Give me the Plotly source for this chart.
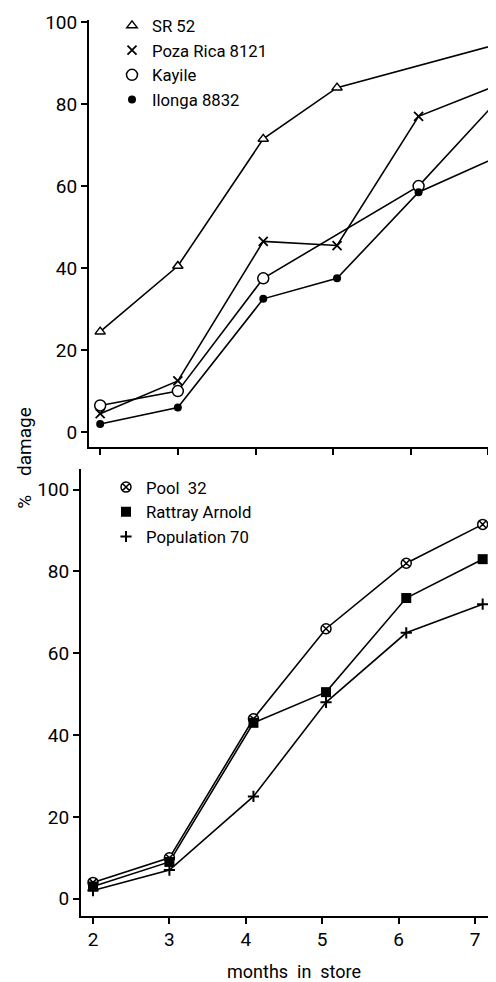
import plotly.graph_objects as go

# ── data ────────────────────────────────────────────────────────────────────
months = [2, 3, 4.1, 5.05, 6.1, 7.1]
tick_months = [2, 3, 4, 5, 6, 7]
tick_damage = [0, 20, 40, 60, 80, 100]

sr52_x = [2, 3, 4.1, 5.05, 7.1]
sr52_y = [24.5, 40.5, 71.5, 84, 94.5]

poza_x = months
poza_y = [4.5, 12.5, 46.5, 45.5, 77, 84.5]

kayile_x = [2, 3, 4.1, 6.1, 7.1]
kayile_y = [6.5, 10, 37.5, 60, 80.5]

ilonga_x = months
ilonga_y = [2, 6, 32.5, 37.5, 58.5, 67]

pool_y = [4, 10, 44, 66, 82, 91.5]
rattray_y = [3, 9, 43, 50.5, 73.5, 83]
pop70_y = [2, 7, 25, 48, 65, 72]

_FONT = "Roboto, Liberation Sans, sans-serif"
_INK = "black"
W, H = 496, 982
OFF = 8   # page body margin offsets the figure by this many pixels


def px_x(p):
    return (p - OFF) / W


def px_y(p):
    return 1 - (p - OFF) / H


series_top = [
    ("SR 52", sr52_x, sr52_y, dict(symbol="triangle-up", size=9, color="white",
                                   line=dict(color=_INK, width=1.5))),
    ("Poza Rica 8121", poza_x, poza_y, dict(symbol="x-thin", size=9, color=_INK,
                                             line=dict(color=_INK, width=1.8))),
    ("Kayile", kayile_x, kayile_y, dict(symbol="circle", size=11, color="white",
                                        line=dict(color=_INK, width=1.5))),
    ("Ilonga 8832", ilonga_x, ilonga_y, dict(symbol="circle", size=8, color=_INK,
                                             line=dict(color=_INK, width=0))),
]
series_bot = [
    ("Pool  32", months, pool_y, dict(symbol="circle-x", size=10, color="white",
                                      line=dict(color=_INK, width=1.5))),
    ("Rattray Arnold", months, rattray_y, dict(symbol="square", size=10, color=_INK,
                                               line=dict(color=_INK, width=0))),
    ("Population 70", months, pop70_y, dict(symbol="cross-thin", size=8, color=_INK,
                                             line=dict(color=_INK, width=2))),
]

fig = go.Figure()

for series, xa, ya, leg in [
    (series_top, "x", "y", "legend"),
    (series_bot, "x2", "y2", "legend2"),
]:
    for name, xs, ys, mk in series:
        fig.add_trace(go.Scatter(
            x=xs, y=ys, mode="lines", xaxis=xa, yaxis=ya,
            line=dict(color=_INK, width=1.6), showlegend=False, hoverinfo="skip",
        ))
    for name, xs, ys, mk in series:
        fig.add_trace(go.Scatter(
            x=xs, y=ys, mode="markers", name=name, xaxis=xa, yaxis=ya,
            marker=mk, legend=leg, cliponaxis=False,
        ))

axis_common = dict(
    showline=True, linecolor=_INK, linewidth=2, mirror=False,
    showgrid=False, zeroline=False, automargin=False,
    ticks="outside", tickcolor=_INK, tickwidth=1.5, ticklen=6,
    ticklabeloverflow="allow",
    tickfont=dict(family=_FONT, size=19, color=_INK),
)

fig.update_layout(
    width=W, height=H,
    paper_bgcolor="white", plot_bgcolor="white",
    margin=dict(l=0, r=0, t=0, b=0, pad=0),
    font=dict(family=_FONT, size=18, color=_INK),
    xaxis=dict(axis_common, domain=[px_x(89), 1.0], range=[1.856, 7.2],
               tickvals=tick_months, showticklabels=False, anchor="y"),
    yaxis=dict(axis_common, domain=[px_y(443), px_y(13)], range=[-3.6, 100.5],
               tickvals=tick_damage, anchor="x"),
    xaxis2=dict(axis_common, domain=[px_x(81), px_x(490)], range=[1.843, 7.196],
                tickvals=tick_months, anchor="y2"),
    yaxis2=dict(axis_common, domain=[px_y(915), px_y(465)], range=[-4.1, 105.1],
                tickvals=tick_damage, anchor="x2"),
    legend=dict(x=px_x(112), xanchor="left", y=px_y(1), yanchor="top",
                bgcolor="rgba(0,0,0,0)", font=dict(size=16.7), tracegroupgap=0),
    legend2=dict(x=px_x(106), xanchor="left", y=px_y(466), yanchor="top",
                 bgcolor="rgba(0,0,0,0)", font=dict(size=16.7), tracegroupgap=0),
    showlegend=True,
)

fig.add_annotation(text="%\u00a0\u00a0\u00a0\u00a0damage", textangle=-90, showarrow=False,
                   xref="paper", yref="paper", x=px_x(25), y=px_y(454),
                   xanchor="center", yanchor="middle",
                   font=dict(family=_FONT, size=19, color=_INK))
fig.add_annotation(text="months\u00a0 in\u00a0 store", showarrow=False,
                   xref="paper", yref="paper", x=px_x(294), y=px_y(971),
                   xanchor="center", yanchor="middle",
                   font=dict(family=_FONT, size=18, color=_INK))

fig.write_html("out.html")
